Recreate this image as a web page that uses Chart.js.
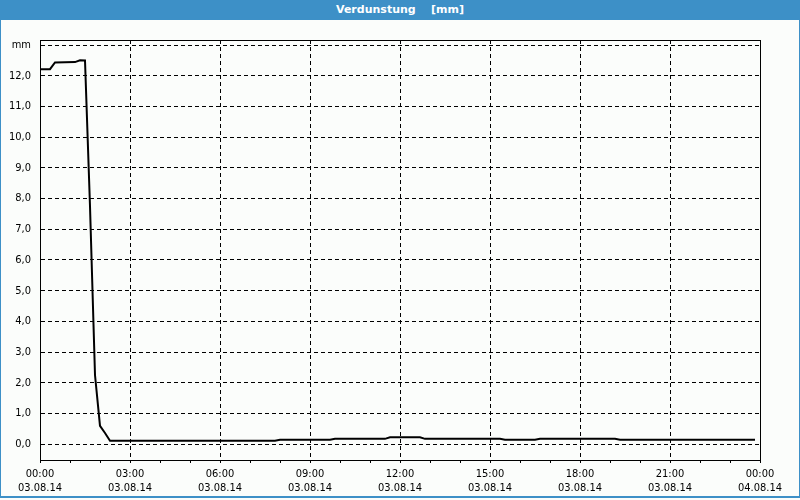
<!DOCTYPE html>
<html>
<head>
<meta charset="utf-8">
<script src="https://cdn.jsdelivr.net/npm/chart.js@4/dist/chart.umd.min.js"></script>
<style>
  html, body { margin: 0; padding: 0; background: #ffffff; }
  #wrap { position: relative; width: 800px; height: 500px; background: #fbfdfb; overflow: hidden; }
  #title { position: absolute; left: 0; top: 0; width: 800px; height: 20px; background: #3d90c7;
           color: #ffffff; font: bold 11px "DejaVu Sans", "Liberation Sans", sans-serif; text-align: center;
           line-height: 20px; white-space: pre; }
  #frame { position: absolute; left: 0; top: 20px; width: 798px; height: 476px;
           border-left: 1px solid #3d90c7; border-right: 1px solid #3d90c7; border-bottom: 2px solid #3d90c7;
           pointer-events: none; }
  canvas { position: absolute; left: 0; top: 20px; }
</style>
</head>
<body>
<div id="wrap">
  <div id="title">Verdunstung    [mm]</div>
  <canvas id="c" width="800" height="476"></canvas>
  <div id="frame"></div>
</div>
<script>
// Sample times (HH:MM on 03.08.14) where the curve changes, and the values there (mm)
const sampleTimes = ['00:00','00:20','00:30','01:10','01:20','01:30','01:40','01:50','02:00','02:10','02:20',
                     '07:50','08:00','09:40','09:50','11:30','11:40','12:40','12:50','15:20','15:30',
                     '16:30','16:40','19:10','19:20','23:50'];
const verdunstung = [12.22, 12.22, 12.44, 12.45, 12.51, 12.50, 7.75, 2.25, 0.59, 0.36, 0.11,
                     0.11, 0.14, 0.14, 0.17, 0.17, 0.22, 0.22, 0.17, 0.17, 0.14,
                     0.14, 0.17, 0.17, 0.14, 0.14];

// Axis tick labels
const xTickTimes = ['00:00','03:00','06:00','09:00','12:00','15:00','18:00','21:00','00:00'];
const xTickDates = ['03.08.14','03.08.14','03.08.14','03.08.14','03.08.14','03.08.14','03.08.14','03.08.14','04.08.14'];
const yTickValues = [0,1,2,3,4,5,6,7,8,9,10,11,12,13];
const yTickLabels = ['0,0','1,0','2,0','3,0','4,0','5,0','6,0','7,0','8,0','9,0','10,0','11,0','12,0','mm'];

function toHours(s) { const p = s.split(':'); return Number(p[0]) + Number(p[1]) / 60; }
const points = sampleTimes.map((t, i) => ({ x: toHours(t), y: verdunstung[i] }));

Chart.defaults.font.family = '"Liberation Sans Narrow", "DejaVu Sans Condensed", "Liberation Sans", sans-serif';
Chart.defaults.font.size = 11;
Chart.defaults.color = '#000000';

const framePlugin = {
  id: 'frame',
  afterDraw(chart) {
    const a = chart.chartArea, ctx = chart.ctx;
    ctx.save();
    ctx.strokeStyle = '#000';
    ctx.lineWidth = 1;
    ctx.setLineDash([]);
    ctx.strokeRect(Math.round(a.left) + 0.5, Math.round(a.top) + 0.5,
                   Math.round(a.right - a.left), Math.round(a.bottom - a.top));
    ctx.restore();
  }
};

new Chart(document.getElementById('c'), {
  type: 'line',
  data: {
    datasets: [{
      data: points,
      borderColor: '#000000',
      borderWidth: 2,
      pointRadius: 0,
      tension: 0,
      fill: false
    }]
  },
  options: {
    responsive: false,
    animation: false,
    devicePixelRatio: 1,
    layout: { padding: { left: 0, right: 40, top: 20, bottom: 0 } },
    plugins: { legend: { display: false }, title: { display: false }, tooltip: { enabled: false } },
    scales: {
      x: {
        type: 'linear',
        min: 0, max: 24,
        afterBuildTicks(axis) {
          const t = [];
          for (let h = 0; h <= 24; h++) t.push({ value: h });
          axis.ticks = t;
        },
        afterFit(axis) { axis.height = 36; },
        ticks: {
          autoSkip: false, maxRotation: 0, minRotation: 0, padding: 4,
          font: { lineHeight: 1.3 },
          callback(v) {
            if (v % 3 !== 0) return '';
            const i = v / 3;
            return [xTickTimes[i], xTickDates[i]];
          }
        },
        grid: {
          color: ctx => (ctx.tick && ctx.tick.value % 3 === 0) ? '#000000' : 'rgba(0,0,0,0)',
          lineWidth: 1,
          tickColor: '#000000',
          tickLength: 3,
          drawTicks: true
        },
        border: { display: true, color: '#000', width: 1, dash: [4, 3] }
      },
      y: {
        type: 'linear',
        min: -0.52, max: 13.17,
        afterBuildTicks(axis) { axis.ticks = yTickValues.map(v => ({ value: v })); },
        afterFit(axis) { axis.width = 40; },
        ticks: {
          padding: 9,
          callback(v) { const i = yTickValues.indexOf(v); return i >= 0 ? yTickLabels[i] : ''; }
        },
        grid: { color: '#000000', lineWidth: 1, drawTicks: false, tickLength: 0 },
        border: { display: true, color: '#000', width: 1, dash: [4, 3] }
      }
    }
  },
  plugins: [framePlugin]
});
</script>
</body>
</html>
